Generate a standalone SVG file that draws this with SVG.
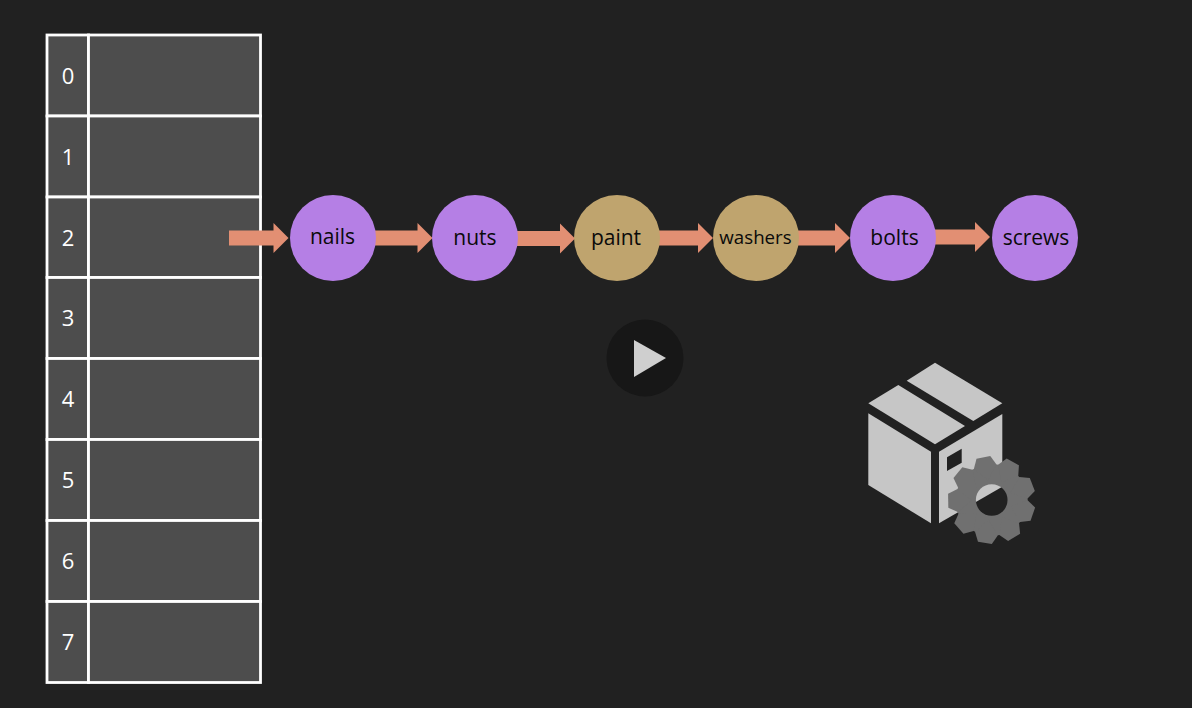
<svg xmlns="http://www.w3.org/2000/svg" xmlns:xlink="http://www.w3.org/1999/xlink" width="1192" height="708" viewBox="0 0 1192 708">
<style>
.cell{fill:#4d4d4d;stroke:#fff;stroke-width:2.800}
.idx{font:22px "Open Sans","Liberation Sans",sans-serif;fill:#fff;text-anchor:middle}
.lbl{font:21px "Open Sans","Liberation Sans",sans-serif;fill:#0a0a0a;text-anchor:middle}
.lbl.w{font-size:18.700px}
.p{fill:#b57fe5}
.t{fill:#bfa46e}
.arr{fill:#e28f73}
.box{fill:#c6c6c6}
.gear{fill:#707070}
</style>
<defs>
<polygon id="arrow" points="-15,-15 0,0 -15,15"/>
<polygon id="tooth" points="-11.500,-34 -7,-43.500 7,-43.500 11.500,-34 0,-20"/>
<mask id="hole" maskUnits="userSpaceOnUse" x="930" y="440" width="120" height="120">
<rect x="930" y="440" width="120" height="120" fill="#fff"/>
<circle cx="991.700" cy="500" r="15.800" fill="#000"/>
</mask>
</defs>
<rect width="1192" height="708" fill="#212121"/>
<g id="table">
<g id="row0"><rect class="cell" x="47" y="35" width="41.500" height="81"/><rect class="cell" x="88.500" y="35" width="172" height="81"/><text class="idx" x="68" y="84">0</text></g>
<g id="row1"><rect class="cell" x="47" y="116" width="41.500" height="81"/><rect class="cell" x="88.500" y="116" width="172" height="81"/><text class="idx" x="68" y="165">1</text></g>
<g id="row2"><rect class="cell" x="47" y="197" width="41.500" height="80.500"/><rect class="cell" x="88.500" y="197" width="172" height="80.500"/><text class="idx" x="68" y="246">2</text></g>
<g id="row3"><rect class="cell" x="47" y="277.500" width="41.500" height="81"/><rect class="cell" x="88.500" y="277.500" width="172" height="81"/><text class="idx" x="68" y="326">3</text></g>
<g id="row4"><rect class="cell" x="47" y="358.500" width="41.500" height="81"/><rect class="cell" x="88.500" y="358.500" width="172" height="81"/><text class="idx" x="68" y="407">4</text></g>
<g id="row5"><rect class="cell" x="47" y="439.500" width="41.500" height="81"/><rect class="cell" x="88.500" y="439.500" width="172" height="81"/><text class="idx" x="68" y="488">5</text></g>
<g id="row6"><rect class="cell" x="47" y="520.500" width="41.500" height="81"/><rect class="cell" x="88.500" y="520.500" width="172" height="81"/><text class="idx" x="68" y="569">6</text></g>
<g id="row7"><rect class="cell" x="47" y="601.500" width="41.500" height="81"/><rect class="cell" x="88.500" y="601.500" width="172" height="81"/><text class="idx" x="68" y="650">7</text></g>
</g>
<g id="connectors" class="arr">
<g><rect x="229" y="230.500" width="45" height="15"/><use xlink:href="#arrow" href="#arrow" transform="translate(288.500,238)"/></g>
<g><rect x="374" y="230.500" width="45" height="15"/><use xlink:href="#arrow" href="#arrow" transform="translate(432.500,238)"/></g>
<g><rect x="516" y="231" width="46" height="15"/><use xlink:href="#arrow" href="#arrow" transform="translate(575,238.500)"/></g>
<g><rect x="658" y="230.500" width="42" height="15"/><use xlink:href="#arrow" href="#arrow" transform="translate(713,238)"/></g>
<g><rect x="797" y="230.500" width="40" height="15"/><use xlink:href="#arrow" href="#arrow" transform="translate(850,238)"/></g>
<g><rect x="934" y="229.500" width="43" height="15"/><use xlink:href="#arrow" href="#arrow" transform="translate(990,237)"/></g>
</g>
<g id="nails"><circle class="p" cx="333" cy="238" r="43"/><text class="lbl" x="332.500" y="244">nails</text></g>
<g id="nuts"><circle class="p" cx="475" cy="238" r="43"/><text class="lbl" x="475" y="245">nuts</text></g>
<g id="paint"><circle class="t" cx="617" cy="238" r="43"/><text class="lbl" x="616" y="244.500">paint</text></g>
<g id="washers"><circle class="t" cx="756" cy="238" r="43"/><text class="lbl w" x="755.500" y="244">washers</text></g>
<g id="bolts"><circle class="p" cx="893" cy="238" r="43"/><text class="lbl" x="894.500" y="245">bolts</text></g>
<g id="screws"><circle class="p" cx="1035" cy="238" r="43"/><text class="lbl" x="1036" y="245">screws</text></g>
<g id="play"><circle cx="645" cy="358" r="38.500" fill="#171717"/><polygon points="634,340 634,377 666,358" fill="#cfcfcf"/></g>
<g id="package">
<g class="box">
<polygon points="868.300,403.300 898.300,385 965,426 935,444.300"/>
<polygon points="906.700,380.700 935,362.700 1002.300,403.300 973.300,421"/>
<polygon points="868.300,413.300 931,451.700 931,523.300 868.300,485"/>
<polygon points="939,523.300 939,451.700 1002.300,414 1002.300,486.700"/>
</g>
<polygon points="947,457.300 961.700,448.700 961.700,462.700 947,471" fill="#212121"/>
<g class="gear" mask="url(#hole)">
<circle cx="991.700" cy="500" r="36"/>
<use xlink:href="#tooth" href="#tooth" transform="translate(991.700,500) rotate(-11)"/>
<use xlink:href="#tooth" href="#tooth" transform="translate(991.700,500) rotate(29)"/>
<use xlink:href="#tooth" href="#tooth" transform="translate(991.700,500) rotate(69)"/>
<use xlink:href="#tooth" href="#tooth" transform="translate(991.700,500) rotate(109)"/>
<use xlink:href="#tooth" href="#tooth" transform="translate(991.700,500) rotate(149)"/>
<use xlink:href="#tooth" href="#tooth" transform="translate(991.700,500) rotate(189)"/>
<use xlink:href="#tooth" href="#tooth" transform="translate(991.700,500) rotate(229)"/>
<use xlink:href="#tooth" href="#tooth" transform="translate(991.700,500) rotate(269)"/>
<use xlink:href="#tooth" href="#tooth" transform="translate(991.700,500) rotate(309)"/>
</g>
</g>
</svg>
